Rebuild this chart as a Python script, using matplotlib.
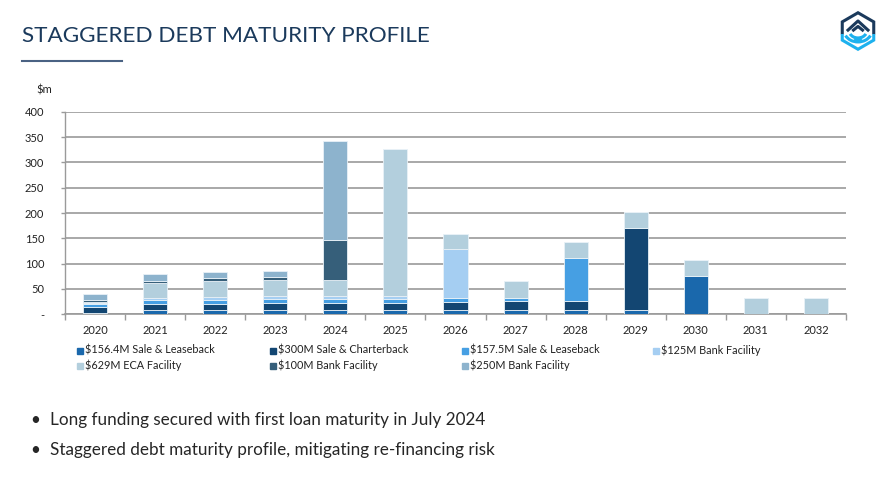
import matplotlib
matplotlib.use('Agg')
import matplotlib.pyplot as plt
from matplotlib.patches import Rectangle, Arc
import numpy as np

plt.rcParams['font.family'] = ['Lato', 'DejaVu Sans']

# 到期年份
years = ['2020', '2021', '2022', '2023', '2024', '2025', '2026',
         '2027', '2028', '2029', '2030', '2031', '2032']

# 各融资工具每年到期金额 ($m)
sale_leaseback_156 = [3, 8, 8, 8, 8, 8, 8, 8, 8, 8, 76, 0, 0]
sale_charterback_300 = [11, 13, 13, 14.5, 15, 15, 17, 18, 19, 162, 0, 0, 0]
sale_leaseback_157 = [7, 7, 7, 7, 7, 7, 7, 7, 84, 0, 0, 0, 0]
bank_125 = [1, 5, 6.5, 6.5, 7, 7, 96, 0, 0, 0, 0, 0, 0]
eca_629 = [2, 28, 32, 31.5, 31.5, 290, 31.5, 33, 32, 31, 31.5, 31.5, 31.5]
bank_100 = [4, 5, 5, 6, 78, 0, 0, 0, 0, 0, 0, 0, 0]
bank_250 = [13, 13, 13, 12, 195, 0, 0, 0, 0, 0, 0, 0, 0]

series_labels = ['$156.4M Sale & Leaseback', '$300M Sale & Charterback',
                 '$157.5M Sale & Leaseback', '$125M Bank Facility',
                 '$629M ECA Facility', '$100M Bank Facility',
                 '$250M Bank Facility']
series_values = [sale_leaseback_156, sale_charterback_300, sale_leaseback_157,
                 bank_125, eca_629, bank_100, bank_250]
series_colors = ['#1a68ac', '#134672', '#469fe3', '#a5cef2',
                 '#b3cfdd', '#365f7a', '#8db3cd']

y_ticks = [0, 50, 100, 150, 200, 250, 300, 350, 400]
y_tick_labels = ['-', '50', '100', '150', '200', '250', '300', '350', '400']

NAVY = '#1b3a5c'
CYAN = '#1db1ee'
GRID = '#9a9a9a'

fig = plt.figure(figsize=(8.92, 4.82), dpi=100)

# 标题与下划线
fig.text(22 / 892, 1 - 36 / 482, 'STAGGERED DEBT MATURITY PROFILE',
         fontsize=16.2, color=NAVY, va='center', ha='left')
fig.add_artist(plt.Line2D([22 / 892, 122 / 892], [1 - 61 / 482, 1 - 61 / 482],
                          color='#4a6283', lw=1.5))

# 堆叠柱状图
ax = fig.add_axes([65 / 892, 1 - 314.3 / 482, 781 / 892, 202.6 / 482])
x = np.arange(len(years))
bottom = np.zeros(len(years))
for vals, color, label in zip(series_values, series_colors, series_labels):
    vals = np.array(vals, dtype=float)
    ax.bar(x, vals, width=0.4, bottom=bottom, color=color, label=label,
           edgecolor='#e8f1f7', linewidth=0.6, zorder=3)
    bottom += vals

ax.set_xlim(-0.5, len(years) - 0.5)
ax.set_ylim(0, 400)
ax.set_yticks(y_ticks)
ax.set_yticklabels(y_tick_labels)
ax.yaxis.grid(True, color=GRID, lw=1.2, zorder=0)
ax.set_axisbelow(True)

ax.set_xticks(np.arange(-0.5, len(years)), labels=[''] * (len(years) + 1))
ax.set_xticks(x, labels=years, minor=True)
ax.tick_params(axis='x', which='major', length=4, color=GRID, width=1)
ax.tick_params(axis='x', which='minor', length=0, pad=8, labelsize=8, labelcolor='#222222')
ax.tick_params(axis='y', length=3, color=GRID, width=1, pad=12, labelsize=8, labelcolor='#222222')

for side in ['top', 'right']:
    ax.spines[side].set_visible(False)
ax.spines['left'].set_color(GRID)
ax.spines['bottom'].set_color(GRID)
ax.spines['left'].set_linewidth(1)
ax.spines['bottom'].set_linewidth(1.2)

fig.text(36 / 892, 1 - 90 / 482, '$m', fontsize=8, color='#222222', va='center')

# 图例（手动排布，两行四列）
legend_x = [77, 270, 462, 653]
legend_y = [350, 365]
for i, (label, color) in enumerate(zip(series_labels, series_colors)):
    col, row = i % 4, i // 4
    lx, ly = legend_x[col], legend_y[row]
    fig.add_artist(Rectangle((lx / 892, 1 - (ly + 3.5) / 482), 6 / 892, 6 / 482,
                             transform=fig.transFigure, color=color))
    fig.text((lx + 8) / 892, 1 - ly / 482, label, fontsize=7.8,
             color='#222222', va='center', ha='left')

# 要点说明
bullets = ['Long funding secured with first loan maturity in July 2024',
           'Staggered debt maturity profile, mitigating re-financing risk']
for i, txt in enumerate(bullets):
    yy = 1 - (420 + i * 30) / 482
    fig.text(30 / 892, yy, '\u2022', fontsize=12.3, color='#262626', va='center')
    fig.text(50 / 892, yy, txt, fontsize=12.3, color='#262626', va='center')

# 右上角标志
lax = fig.add_axes([838 / 892, 1 - 52 / 482, 40 / 892, 42 / 482])
lax.set_xlim(-1.1, 1.1)
lax.set_ylim(-1.15, 1.15)
lax.axis('off')
lax.plot([-0.866, -0.866, 0, 0.866, 0.866], [-0.1, 0.5, 1, 0.5, -0.1],
         color=NAVY, lw=2.2, solid_joinstyle='miter')
lax.plot([-0.866, -0.866, 0, 0.866, 0.866], [-0.25, -0.5, -1, -0.5, -0.25],
         color=CYAN, lw=2.2, solid_joinstyle='miter')
lax.plot([-0.55, 0, 0.55], [0.05, 0.55, 0.05], color=NAVY, lw=2.2)
lax.plot([-0.25, 0, 0.25], [0.05, 0.25, 0.05], color=NAVY, lw=2.2)
for r in [0.6, 0.38]:
    lax.add_patch(Arc((0, 0.0), 2 * r * 1.25, 2 * r, theta1=200, theta2=340, color=CYAN, lw=2.2))
lax.add_patch(Arc((0, -0.4), 0.3, 0.2, theta1=180, theta2=360, color=CYAN, lw=2.2))

fig.savefig('out.png', dpi=100)
plt.close(fig)
